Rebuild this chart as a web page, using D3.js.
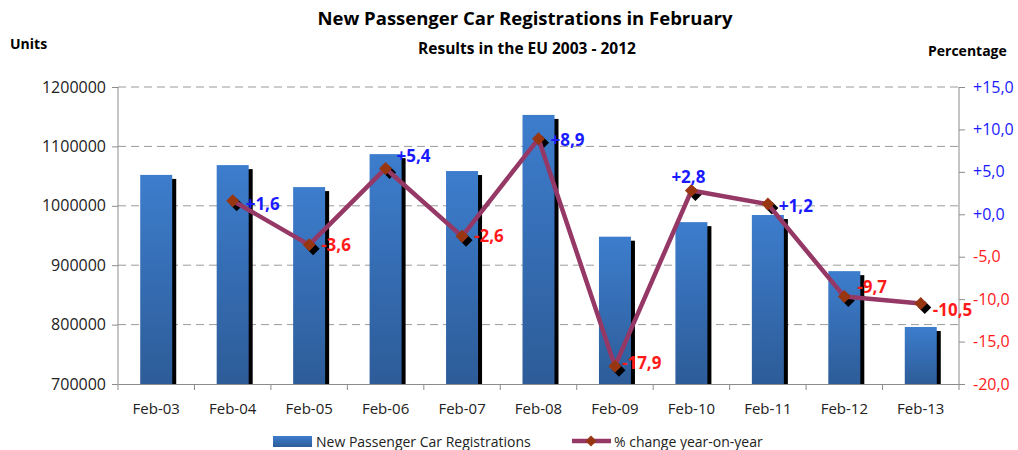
<!DOCTYPE html>
<html>
<head>
<meta charset="utf-8">
<script src="https://cdn.jsdelivr.net/npm/d3@7"></script>
<style>
  body { margin: 0; background: #fff; }
  svg { display: block; }
</style>
</head>
<body>
<div id="chart"></div>
<script>
// data
const categories = ["Feb-03", "Feb-04", "Feb-05", "Feb-06", "Feb-07", "Feb-08", "Feb-09", "Feb-10", "Feb-11", "Feb-12", "Feb-13"];
const registrations = [1052000, 1068500, 1031500, 1087000, 1058500, 1153000, 948000, 972500, 984500, 890000, 796000];
const pctChange = [null, 1.6, -3.6, 5.4, -2.6, 8.9, -17.9, 2.8, 1.2, -9.7, -10.5];
const leftTicks = [700000, 800000, 900000, 1000000, 1100000, 1200000];
const rightTicks = [-20, -15, -10, -5, 0, 5, 10, 15];

// label nudges (dx, dy, anchor) relative to each point
const labelNudge = [null, [13, 3, "start"], [12, 0, "start"], [11, -13, "start"], [12, -1, "start"],
    [12, 1, "start"], [7, -4, "start"], [-3, -14, "middle"], [11, 1, "start"], [13, -10, "start"], [12, 6, "start"]];

const width = 1018, height = 450;
const margin = { top: 87, right: 59, bottom: 66, left: 118 };
const chartWidth = width - margin.left - margin.right;
const chartHeight = height - margin.top - margin.bottom;
const font = "'Open Sans', 'Liberation Sans', sans-serif";
const fmtPct = v => (v >= 0 ? "+" : "-") + d3.format(".1f")(Math.abs(v)).replace(".", ",");

const svg = d3.select("#chart").append("svg")
    .attr("width", width)
    .attr("height", height);

const defs = svg.append("defs");
const grad = defs.append("linearGradient")
    .attr("id", "barGrad")
    .attr("x1", "0%").attr("y1", "0%").attr("x2", "0%").attr("y2", "100%");
grad.append("stop").attr("offset", "0%").attr("stop-color", "#3d7dcd");
grad.append("stop").attr("offset", "100%").attr("stop-color", "#2d5c98");

// titles
svg.append("text")
    .attr("x", 525).attr("y", 25)
    .attr("text-anchor", "middle")
    .style("font-family", font).style("font-weight", "bold").style("font-size", "18.5px")
    .text("New Passenger Car Registrations in February");
svg.append("text")
    .attr("x", 527).attr("y", 54)
    .attr("text-anchor", "middle")
    .style("font-family", font).style("font-weight", "bold").style("font-size", "15.5px")
    .text("Results in the EU 2003 - 2012");
svg.append("text")
    .attr("x", 10).attr("y", 49)
    .style("font-family", font).style("font-weight", "bold").style("font-size", "14px")
    .text("Units");
svg.append("text")
    .attr("x", 928).attr("y", 56)
    .style("font-family", font).style("font-weight", "bold").style("font-size", "14px")
    .text("Percentage");

const g = svg.append("g").attr("transform", `translate(${margin.left},${margin.top})`);

const x = d3.scaleBand().domain(categories).range([0, chartWidth]).paddingInner(0).paddingOuter(0);
const yL = d3.scaleLinear().domain([700000, 1200000]).range([chartHeight, 0]);
const yR = d3.scaleLinear().domain([-20, 15]).range([chartHeight, 0]);

// gridlines
g.selectAll(".grid").data(leftTicks.slice(1)).join("line")
    .attr("x1", 0).attr("x2", chartWidth)
    .attr("y1", d => yL(d)).attr("y2", d => yL(d))
    .attr("stroke", "#9a9a9a").attr("stroke-width", 1)
    .attr("stroke-dasharray", "8,5");

// bars: shadow then bar
const barW = 32;
const bars = g.append("g");
bars.selectAll(".shadow").data(categories).join("rect")
    .attr("x", (d, i) => x(d) + x.bandwidth() / 2 - barW / 2 + 4)
    .attr("y", (d, i) => yL(registrations[i]) + 4)
    .attr("width", barW)
    .attr("height", (d, i) => chartHeight - yL(registrations[i]) - 4)
    .attr("fill", "#000");
bars.selectAll(".bar").data(categories).join("rect")
    .attr("x", d => x(d) + x.bandwidth() / 2 - barW / 2)
    .attr("y", (d, i) => yL(registrations[i]))
    .attr("width", barW)
    .attr("height", (d, i) => chartHeight - yL(registrations[i]))
    .attr("fill", "url(#barGrad)");

// axes
const axisColor = "#8c8c8c";
const leftAxis = g.append("g")
    .call(d3.axisLeft(yL).tickValues(leftTicks).tickSize(6).tickPadding(6).tickFormat(d3.format("d")));
const rightAxis = g.append("g").attr("transform", `translate(${chartWidth},0)`)
    .call(d3.axisRight(yR).tickValues(rightTicks).tickSize(6).tickPadding(8).tickFormat(fmtPct));
const bottomAxis = g.append("g").attr("transform", `translate(0,${chartHeight})`)
    .call(d3.axisBottom(x).tickSize(0).tickPadding(19));

[leftAxis, rightAxis, bottomAxis].forEach(a => {
    a.select(".domain").attr("stroke", axisColor);
    a.selectAll(".tick line").attr("stroke", axisColor);
    a.selectAll("text").style("font-family", font).style("font-size", "15px").attr("fill", "#222");
});
leftAxis.select(".domain").attr("d", `M0,0V${chartHeight}`);
rightAxis.select(".domain").attr("d", `M0,0V${chartHeight}`);
leftAxis.selectAll("text").style("font-size", "16px");
rightAxis.selectAll("text").style("font-size", "16px")
    .attr("fill", d => d >= 0 ? "#1a1aff" : "#ff1a1a");

// x tick marks at category boundaries
g.selectAll(".xtick").data(d3.range(categories.length + 1)).join("line")
    .attr("x1", i => i * x.bandwidth()).attr("x2", i => i * x.bandwidth())
    .attr("y1", chartHeight).attr("y2", chartHeight + 6)
    .attr("stroke", axisColor);

// line series
const pts = categories.map((c, i) => ({ c, v: pctChange[i], i })).filter(d => d.v !== null);
const cx = d => x(d.c) + x.bandwidth() / 2;
const line = d3.line().x(cx).y(d => yR(d.v));
const diamond = s => `M0,${-s}L${s},0L0,${s}L${-s},0Z`;

g.selectAll(".mshadow").data(pts).join("path")
    .attr("transform", d => `translate(${cx(d) + 4},${yR(d.v) + 4})`)
    .attr("d", diamond(6.5))
    .attr("fill", "#000");
g.append("path").datum(pts)
    .attr("d", line)
    .attr("fill", "none")
    .attr("stroke", "#953865")
    .attr("stroke-width", 4.5)
    .attr("stroke-linejoin", "round");
g.selectAll(".marker").data(pts).join("path")
    .attr("transform", d => `translate(${cx(d)},${yR(d.v)})`)
    .attr("d", diamond(6.5))
    .attr("fill", "#993612");

// value labels
g.selectAll(".vlabel").data(pts).join("text")
    .attr("x", d => cx(d) + labelNudge[d.i][0])
    .attr("y", d => yR(d.v) + labelNudge[d.i][1])
    .attr("text-anchor", d => labelNudge[d.i][2])
    .attr("dominant-baseline", "central")
    .style("font-family", font).style("font-weight", "bold").style("font-size", "17px")
    .attr("fill", d => d.v >= 0 ? "#1a1aff" : "#ff1a1a")
    .text(d => fmtPct(d.v));

// legend
const lg = svg.append("g").attr("transform", "translate(0,441)");
lg.append("rect").attr("x", 273).attr("y", -5).attr("width", 39).attr("height", 11).attr("fill", "url(#barGrad)");
lg.append("text").attr("x", 316).attr("y", 0)
    .attr("dominant-baseline", "central")
    .style("font-family", font).style("font-size", "14px").attr("fill", "#222")
    .text("New Passenger Car Registrations");
lg.append("line").attr("x1", 572).attr("x2", 611).attr("y1", 0).attr("y2", 0)
    .attr("stroke", "#953865").attr("stroke-width", 4.5);
lg.append("path").attr("transform", "translate(591,0)").attr("d", diamond(5.5)).attr("fill", "#993612");
lg.append("text").attr("x", 614).attr("y", 0)
    .attr("dominant-baseline", "central")
    .style("font-family", font).style("font-size", "14px").attr("fill", "#222")
    .text("% change year-on-year");
</script>
</body>
</html>
